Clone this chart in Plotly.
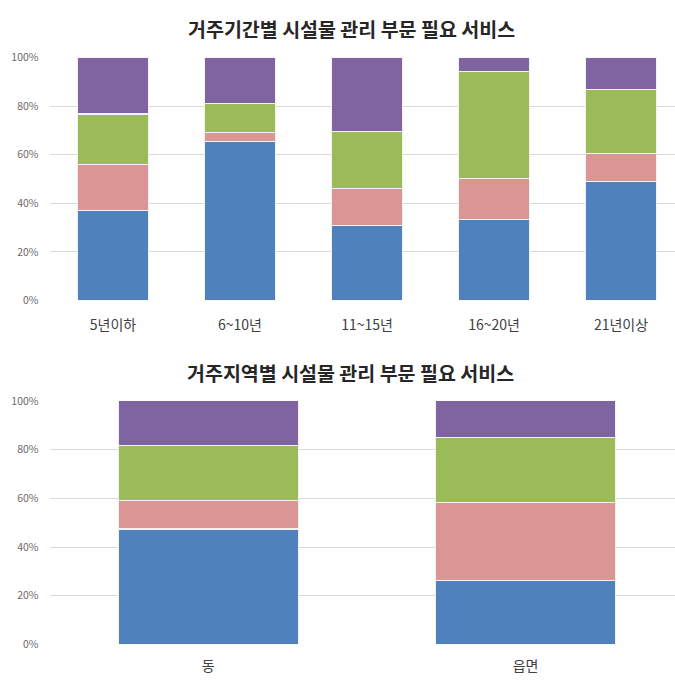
import plotly.graph_objects as go

# ---- data ----
period_categories = ["5년이하", "6~10년", "11~15년", "16~20년", "21년이상"]
period_blue = [36.9, 65.6, 31.0, 33.4, 49.1]
period_pink = [19.1, 3.4, 15.2, 16.8, 11.4]
period_green = [20.8, 12.2, 23.3, 44.2, 26.4]
period_purple = [23.2, 18.8, 30.5, 5.6, 13.1]

region_categories = ["동", "읍면"]
region_blue = [47.4, 26.3]
region_pink = [11.6, 32.1]
region_green = [22.7, 26.5]
region_purple = [18.3, 15.1]

y_tick_values = [0, 20, 40, 60, 80, 100]
y_tick_labels = ["0%", "20%", "40%", "60%", "80%", "100%"]

title_top = "거주기간별 시설물 관리 부문 필요 서비스"
title_bottom = "거주지역별 시설물 관리 부문 필요 서비스"

colors = ["#4F81BD", "#DA9694", "#9BBB59", "#8064A2"]
FONT = "Noto Sans CJK KR"

fig = go.Figure()

def add_stack(cats, series, xa, ya, width):
    for vals, col in zip(series, colors):
        fig.add_trace(go.Bar(
            x=cats, y=vals, xaxis=xa, yaxis=ya, width=width,
            marker=dict(color=col, line=dict(color="#F2F2F2", width=1.2)),
            showlegend=False, hoverinfo="skip"))

add_stack(period_categories,
          [period_blue, period_pink, period_green, period_purple], "x", "y", 0.56)
add_stack(region_categories,
          [region_blue, region_pink, region_green, region_purple], "x2", "y2", 0.567)

W, H = 675, 684
def ydom(top_px, bot_px):
    return [1 - bot_px / H, 1 - top_px / H]

left = 49.5 / W
common_x = dict(showgrid=False, zeroline=False, showline=False, ticks="",
                tickfont=dict(family=FONT, size=14, color="#404040"),
                fixedrange=True)
common_y = dict(range=[0, 100], tickvals=y_tick_values, ticktext=y_tick_labels,
                showgrid=True, gridcolor="#D9D9D9", gridwidth=1,
                zeroline=False, showline=False, ticks="",
                tickfont=dict(family=FONT, size=10.5, color="#6A6A6A"),
                ticklabelstandoff=10, fixedrange=True)

fig.update_layout(
    width=W, height=H,
    margin=dict(l=0, r=0, t=0, b=0),
    paper_bgcolor="white", plot_bgcolor="white",
    barmode="stack",
    xaxis=dict(domain=[left, 1], range=[-0.5, 4.425], anchor="y",
               ticklabelstandoff=15, **common_x),
    yaxis=dict(domain=ydom(50.7, 299), anchor="x", **common_y),
    xaxis2=dict(domain=[left, 1], range=[-0.5, 1.471], anchor="y2",
                ticklabelstandoff=12, **common_x),
    yaxis2=dict(domain=ydom(401.7, 650.7), anchor="x2", **common_y),
    annotations=[
        dict(text="<b>" + title_top + "</b>", xref="paper", yref="paper",
             x=351 / W, y=1 - 21 / H, xanchor="center", yanchor="middle",
             showarrow=False, font=dict(family=FONT, size=19.5, color="#262626")),
        dict(text="<b>" + title_bottom + "</b>", xref="paper", yref="paper",
             x=350 / W, y=1 - 373 / H, xanchor="center", yanchor="middle",
             showarrow=False, font=dict(family=FONT, size=19.5, color="#262626")),
    ],
)

fig.write_html("out.html", config={"displayModeBar": False},
               post_script="document.body.style.margin='0';document.body.style.overflow='hidden';")
